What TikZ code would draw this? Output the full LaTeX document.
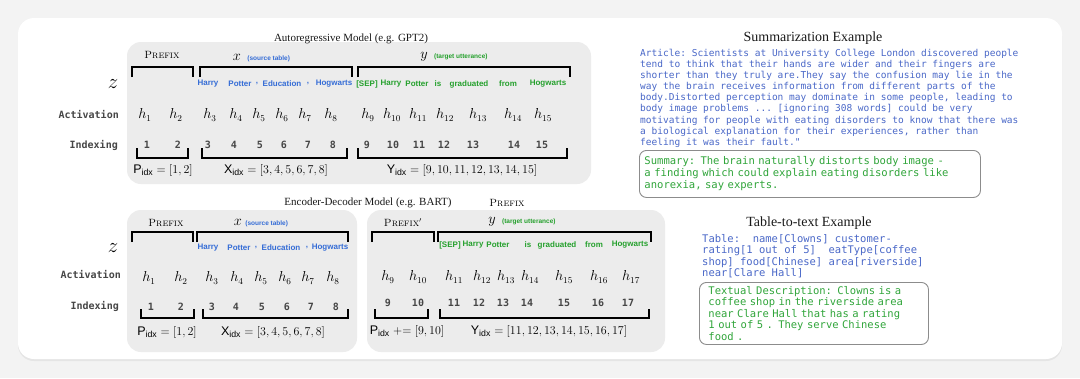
\documentclass[tikz,border=0pt]{standalone}
\usepackage{fontspec}
\usepackage{amsmath}
\setmonofont{DejaVu Sans Mono}
\setsansfont{Liberation Sans}
\newfontfamily\titlefont{Liberation Serif}
\usetikzlibrary{shadows}
\definecolor{tokblue}{RGB}{52,108,214}
\definecolor{tokgreen}{RGB}{36,160,44}
\definecolor{artblue}{RGB}{74,104,200}
\definecolor{sumgreen}{RGB}{48,165,58}
\definecolor{rowgray}{RGB}{70,70,70}
\definecolor{boxgray}{RGB}{236,236,236}
\definecolor{pagegray}{RGB}{243,243,243}

\begin{document}
\begin{tikzpicture}[x=1pt,y=-1pt,
  title/.style={font=\fontsize{11}{13}\titlefont,text=black!90,inner sep=0pt},
  extitle/.style={font=\fontsize{14}{16}\titlefont,text=black!90,inner sep=0pt},
  prefixlabel/.style={font=\fontsize{10.5}{12}\scshape,inner sep=0pt},
  seqlabel/.style={font=\fontsize{14}{16}\selectfont,inner sep=0pt},
  seqnote/.style={font=\fontsize{6.5}{8}\sffamily\bfseries,inner sep=0pt,anchor=base west},
  rowlabel/.style={anchor=east,font=\fontsize{10}{12}\ttfamily\bfseries,text=rowgray,inner sep=0pt},
  tok/.style={font=\fontsize{8}{10}\sffamily\bfseries,inner sep=0pt},
  act/.style={font=\fontsize{13.5}{15}\selectfont,inner sep=0pt},
  num/.style={font=\fontsize{10}{12}\ttfamily\bfseries,text=rowgray,inner sep=0pt},
  idxlabel/.style={font=\fontsize{12.5}{14}\selectfont,inner sep=0pt},
  brk/.style={line width=1.6pt,line join=miter},
  codetext/.style={align=left,anchor=north west,inner sep=0pt},
  examplebox/.style={draw=black!45,line width=0.9pt,rounded corners=7pt,fill=white,
    align=left,anchor=north west,inner ysep=0pt}
]
\useasboundingbox (0,0) rectangle (1080,378);
\fill[pagegray] (0,0) rectangle (1080,378);

%% the white card
\fill[white,rounded corners=16pt,drop shadow={opacity=0.12,shadow xshift=0pt,shadow yshift=-2pt}]
  (18,18) rectangle (1062,359);

%% the gray panels
\fill[boxgray,rounded corners=14pt] (127,42) rectangle (591,184);
\fill[boxgray,rounded corners=14pt] (127,210) rectangle (357,352);
\fill[boxgray,rounded corners=14pt] (367,210) rectangle (665,352);

% ---------------- autoregressive model ----------------
\node[title] (artitle) at (351,39) {Autoregressive Model (e.g. GPT2)};

\node[prefixlabel] (aprefix) at (162,55) {Prefix};
\node[seqlabel] (ax) at (237,57) {$x$};
\node[seqnote,text=tokblue] (axnote) at ([xshift=6pt]ax.base east) {(source table)};
\node[seqlabel] (ay) at (424,57) {$y$};
\node[seqnote,text=tokgreen] (aynote) at ([xshift=6pt]ay.base east) {(target utterance)};

% brackets over the sequence
\foreach \a/\b in {132/193,200/352,358/570}
  \draw[brk] (\a,77) |- (\b,67) -- (\b,77);

\node[seqlabel,font=\fontsize{22}{24}\selectfont] (az) at (113,84) {$z$};

% tokens
\foreach \tx/\word [count=\k] in {208/Harry,240/Potter,257/{,},282/Education,308/{,},334/Hogwarts}
  \node[tok,text=tokblue] (atok\k) at (\tx,84) {\word};
\foreach \tx/\word [count=\k] in {367/[SEP],391/Harry,417/Potter,438/is,469/graduated,508/from,548/Hogwarts}
  \node[tok,text=tokgreen] (atoky\k) at (\tx,84) {\word};

\node[rowlabel] (aact) at (119,115) {Activation};
\node[rowlabel] (aind) at (118,145) {Indexing};

% activations and indices
\foreach \i/\hx/\nx in {1/145/147,2/176/178,3/210/208,4/236/234,5/259/260,6/282/284,7/305/308,
    8/331/333,9/368/367,10/392/393,11/418/419,12/445/444,13/478/473,14/513/514,15/543/542}
{
  \node[act] (ah\i) at (\hx,115) {$h_{\i}$};
  \node[num] (an\i) at (\nx,145) {\i};
}

% brackets under the indices
\foreach \a/\b in {137/188,202/347,358/567}
  \draw[brk] (\a,148) |- (\b,158) -- (\b,148);

\node[idxlabel] (apidx) at (163,170) {$\mathsf{P}_{\mathsf{idx}}=[1,2]$};
\node[idxlabel] (axidx) at (276,170) {$\mathsf{X}_{\mathsf{idx}}=[3,4,5,6,7,8]$};
\node[idxlabel] (ayidx) at (462,170) {$\mathsf{Y}_{\mathsf{idx}}=[9,10,11,12,13,14,15]$};

% ---------------- encoder-decoder model ----------------
\node[title] (edtitle) at (368,203) {Encoder-Decoder Model (e.g. BART)};
\node[prefixlabel] (eprefixtop) at (507,203) {Prefix};

\node[prefixlabel] (eprefix) at (166,223) {Prefix};
\node[seqlabel] (ex) at (238,222) {$x$};
\node[seqnote,text=tokblue] (exnote) at ([xshift=3pt]ex.base east) {(source table)};
\node[prefixlabel] (eprefixd) at (403,223) {Prefix$'$};
\node[seqlabel] (ey) at (492,222) {$y$};
\node[seqnote,text=tokgreen] (eynote) at ([xshift=6pt]ey.base east) {(target utterance)};

\foreach \a/\b in {132/193,197/348,372/434,438/651}
  \draw[brk] (\a,242) |- (\b,232) -- (\b,242);

\node[seqlabel,font=\fontsize{22}{24}\selectfont] (ez) at (113,248) {$z$};

\foreach \tx/\word [count=\k] in {208/Harry,239/Potter,256/{,},281/Education,307/{,},330/Hogwarts}
  \node[tok,text=tokblue] (etok\k) at (\tx,248) {\word};
\foreach \tx/\word [count=\k] in {450/[SEP],473/Harry,498/Potter,528/is,557/graduated,594/from,630/Hogwarts}
  \node[tok,text=tokgreen] (etoky\k) at (\tx,245) {\word};

\node[rowlabel] (eact) at (121,275) {Activation};
\node[rowlabel] (eind) at (119,306) {Indexing};

% encoder side
\foreach \i/\hx/\nx in {1/149/151,2/181/181,3/212/212,4/237/236,5/261/262,6/285/287,7/308/311,8/333/336}
{
  \node[act] (eh\i) at (\hx,278) {$h_{\i}$};
  \node[num] (en\i) at (\nx,307) {\i};
}
% decoder side
\foreach \i/\hx/\nx in {9/388/388,10/418/418,11/454/454,12/482/479,13/506/503,14/530/527,
    15/564/564,16/599/598,17/631/628}
{
  \node[act] (dh\i) at (\hx,277) {$h_{\i}$};
  \node[num] (dn\i) at (\nx,303) {\i};
}

\foreach \a/\b in {141/194,203/348,375/428,440/649}
  \draw[brk] (\a,309) |- (\b,318) -- (\b,309);

\node[idxlabel] (epidx) at (167,332) {$\mathsf{P}_{\mathsf{idx}}=[1,2]$};
\node[idxlabel] (exidx) at (273,332) {$\mathsf{X}_{\mathsf{idx}}=[3,4,5,6,7,8]$};
\node[idxlabel] (dpidx) at (407,331) {$\mathsf{P}_{\mathsf{idx}}\mathrel{+}=[9,10]$};
\node[idxlabel] (dyidx) at (549,331) {$\mathsf{Y}_{\mathsf{idx}}=[11,12,13,14,15,16,17]$};

% ---------------- examples on the right ----------------
\node[extitle] (sumtitle) at (813,38) {Summarization Example};
\node[codetext,text=artblue,font=\fontsize{9.52}{11.1}\ttfamily] (article) at (640,49)
  {Article: Scientists at University College London discovered people\\
   tend to think that their hands are wider and their fingers are\\
   shorter than they truly are.They say the confusion may lie in the\\
   way the brain receives information from different parts of the\\
   body.Distorted perception may dominate in some people, leading to\\
   body image problems ... [ignoring 308 words] could be very\\
   motivating for people with eating disorders to know that there was\\
   a biological explanation for their experiences, rather than\\
   feeling it was their fault."};
\node[examplebox,text=sumgreen,font=\fontsize{10.55}{12}\ttfamily,
  inner xsep=5pt,text width=331pt,minimum height=47pt] (summary) at (639,150)
  {Summary: The brain naturally distorts body image -\\
   a finding which could explain eating disorders like\\
   anorexia, say experts.};

\node[extitle] (tabtitle) at (809,223) {Table-to-text Example};
\node[codetext,text=artblue,font=\fontsize{10.5}{11.4}\ttfamily] (table) at (702,234)
  {Table:~ name[Clowns] customer-\\
   rating[1 out of 5]~ eatType[coffee\\
   shop] food[Chinese] area[riverside]\\
   near[Clare Hall]};
\node[examplebox,text=sumgreen,font=\fontsize{10.5}{11.5}\ttfamily,
  inner xsep=9pt,text width=211pt,minimum height=62pt] (descr) at (699,282)
  {Textual Description: Clowns is a\\
   coffee shop in the riverside area\\
   near Clare Hall that has a rating\\
   1 out of 5 . They serve Chinese\\
   food .};

\end{tikzpicture}
\end{document}
